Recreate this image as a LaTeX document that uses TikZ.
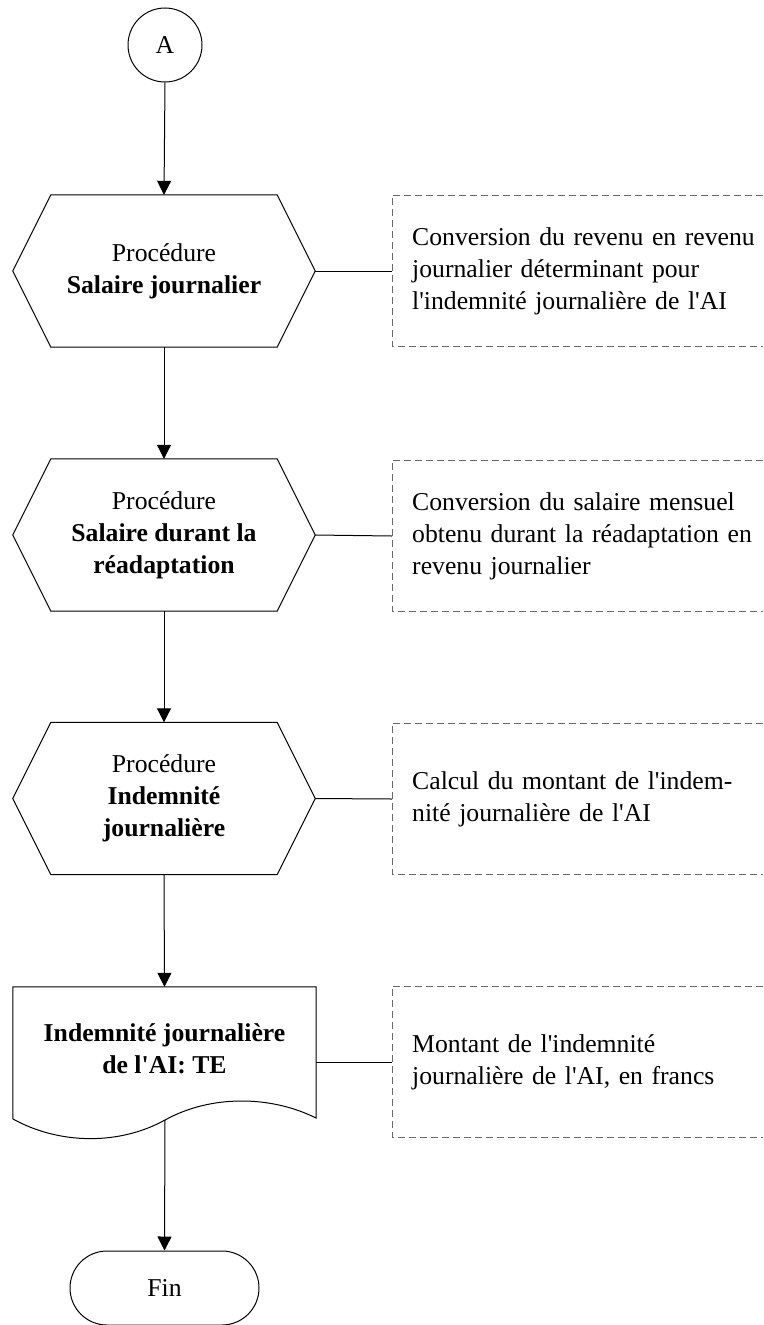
\documentclass[tikz,border=0pt]{standalone}
\usepackage{fontspec}
\setmainfont{Liberation Serif}[Ligatures=TeXOff]
\usetikzlibrary{arrows.meta,shapes.misc,calc}
\definecolor{annogray}{RGB}{105,105,105}
\tikzset{
  flow/.style={line width=1pt, draw=black},
  proc/.style={rectangle, minimum width=302pt, minimum height=152pt, inner sep=0pt, align=center},
  anno/.style={rectangle, anchor=west, text width=351pt, minimum height=150pt, inner sep=0pt, align=left},
  annoline/.style={draw=annogray, dash pattern=on 7pt off 4pt, line width=1pt},
  arr/.style={line width=1pt, -{Triangle[length=14pt,width=14pt]}},
  link/.style={line width=1pt},
}
\newcommand\hexfr[1]{\draw[flow] (#1.west) -- ([xshift=38pt]#1.north west) -- ([xshift=-38pt]#1.north east) -- (#1.east) -- ([xshift=-38pt]#1.south east) -- ([xshift=38pt]#1.south west) -- cycle;}
\newcommand\annofr[1]{\draw[annoline] (#1.north east) -- ([xshift=-20pt]#1.north west) -- ([xshift=-20pt]#1.south west) -- (#1.south east);
  \coordinate (#1l) at ([xshift=-20pt]#1.west);}
\begin{document}
\begin{tikzpicture}[x=1pt,y=-1pt, every node/.style={font=\fontsize{25.7}{32}\selectfont}]
\useasboundingbox (0,0) rectangle (763,1325);
% start connector
\node[circle, draw, line width=1pt, minimum size=74pt, inner sep=0pt] (A) at (165,45) {A};
% procedures
\node[proc] (h1) at (164,271) {Procédure\\\textbf{Salaire journalier}};
\node[proc] (h2) at (164,535) {Procédure\\\textbf{Salaire durant la}\\\textbf{réadaptation}};
\node[proc] (h3) at (164,798.5) {Procédure\\\textbf{Indemnité}\\\textbf{journalière}};
\hexfr{h1}\hexfr{h2}\hexfr{h3}
% document
\node[rectangle, minimum width=303pt, minimum height=124pt, inner sep=0pt, align=center] (doc) at (164.5,1049) {\textbf{Indemnité journalière}\\\textbf{de l'AI: TE}};
\coordinate (docb) at (165,1120);
\draw[flow] (doc.north west) -- (doc.north east) -- (316,1118)
  .. controls (270,1095) and (210,1095) .. (docb)
  .. controls (120,1145) and (60,1145) .. (13,1119) -- cycle;
% end
\node[rounded rectangle, draw, line width=1pt, minimum width=189pt, minimum height=74pt, inner sep=0pt] (fin) at (164.5,1288) {Fin};
% annotations
\node[anno] (n1) at (412,271) {Conversion du revenu en revenu\\journalier déterminant pour\\l'indemnité journalière de l'AI};
\node[anno] (n2) at (412,536) {Conversion du salaire mensuel\\obtenu durant la réadaptation en\\revenu journalier};
\node[anno] (n3) at (412,799) {Calcul du montant de l'indem-\\nité journalière de l'AI};
\node[anno] (n4) at (412,1062) {Montant de l'indemnité\\journalière de l'AI, en francs};
\annofr{n1}\annofr{n2}\annofr{n3}\annofr{n4}
% links to annotations
\draw[link] (h1.east) -- (n1l);
\draw[link] (h2.east) -- (n2l);
\draw[link] (h3.east) -- (n3l);
\draw[link] (doc.north east |- n4l) -- (n4l);
% flow arrows
\draw[arr] (A.south) -- (h1.north);
\draw[arr] (h1.south) -- (h2.north);
\draw[arr] (h2.south) -- (h3.north);
\draw[arr] (h3.south) -- (doc.north);
\draw[arr] (docb) -- (fin.north);
\end{tikzpicture}
\end{document}
